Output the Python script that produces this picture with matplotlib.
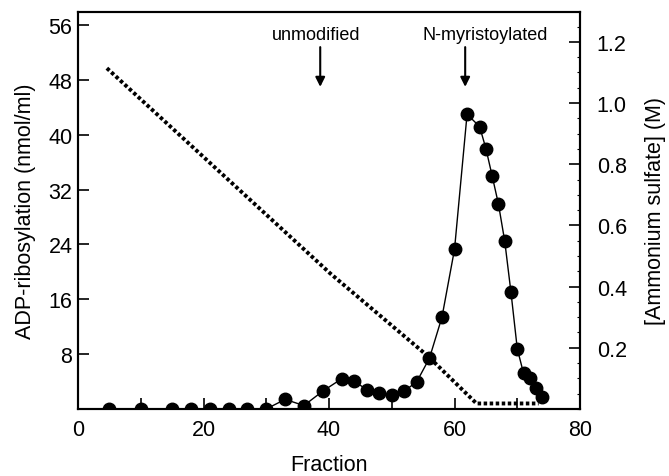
import numpy as np
import matplotlib
matplotlib.use('Agg')
import matplotlib.pyplot as plt
from matplotlib.ticker import MultipleLocator

plt.rcParams['font.family'] = ['Liberation Sans', 'DejaVu Sans']

# ADP-ribosylation activity per fraction
fraction = [5, 10, 15, 18, 21, 24, 27, 30, 33, 36, 39, 42, 44, 46, 48, 50, 52, 54,
            56, 58, 60, 62, 64, 65, 66, 67, 68, 69, 70, 71, 72, 73, 74]
adp = [0, 0, 0, 0, 0, 0, 0, 0, 1.4, 0.5, 2.6, 4.4, 4.1, 2.8, 2.3, 2.1, 2.6, 4.0,
       7.4, 13.4, 23.3, 43.0, 41.2, 38.0, 34.0, 29.9, 24.5, 17.0, 8.8, 5.2, 4.5, 3.0, 1.8]

# ammonium sulfate gradient
salt_x = [4.6, 40.2, 55.8, 63.5, 73.4]
salt_y = [1.114, 0.443, 0.172, 0.018, 0.018]

fig = plt.figure(figsize=(6.69, 4.77), dpi=100)
ax = fig.add_axes([0.1166, 0.1405, 0.7504, 0.8325])
ax2 = ax.twinx()

ax.plot(fraction, adp, color='black', lw=1.0, marker='o', markersize=9,
        markerfacecolor='black', markeredgecolor='black', zorder=3)
ax2.plot(salt_x, salt_y, color='black', lw=2.8, linestyle=(0, (0.9, 0.65)),
         dash_capstyle='butt', zorder=2)

ax.set_xlim(0, 80)
ax.set_ylim(0, 57.94)
ax2.set_ylim(0, 1.298)

ax.set_xticks([0, 20, 40, 60, 80])
ax.xaxis.set_minor_locator(MultipleLocator(10))
ax.set_yticks([8, 16, 24, 32, 40, 48, 56])
ax2.set_yticks([0.2, 0.4, 0.6, 0.8, 1.0, 1.2])
ax2.yaxis.set_minor_locator(MultipleLocator(0.05))

ax.tick_params(axis='x', which='both', direction='in', length=8, width=1.2,
               labelsize=15.5, pad=7)
ax.tick_params(axis='y', which='both', direction='in', length=8, width=1.2,
               labelsize=15.5, pad=4)
ax2.tick_params(axis='y', which='major', direction='in', length=8, width=1.2,
                labelsize=15.5, pad=12)
ax2.tick_params(axis='y', which='minor', direction='in', length=2.5, width=0.8)

for a in (ax, ax2):
    for s in a.spines.values():
        s.set_linewidth(1.5)

ax.set_xlabel('Fraction', fontsize=15.5, labelpad=10)
ax.set_ylabel('ADP-ribosylation (nmol/ml)', fontsize=15.5, labelpad=9)
ax2.set_ylabel('[Ammonium sulfate] (M)', fontsize=15.5, labelpad=13)

# peak markers
ax.text(38.0, 54.7, 'unmodified', ha='center', va='center', fontsize=13)
ax.text(64.9, 54.7, 'N-myristoylated', ha='center', va='center', fontsize=13)
for xa in (38.6, 61.7):
    ax.annotate('', xy=(xa, 47.0), xytext=(xa, 52.8),
                arrowprops=dict(arrowstyle='-|>', color='black', lw=1.5,
                                mutation_scale=14, shrinkA=0, shrinkB=0))

plt.savefig('out.png', dpi=100)
